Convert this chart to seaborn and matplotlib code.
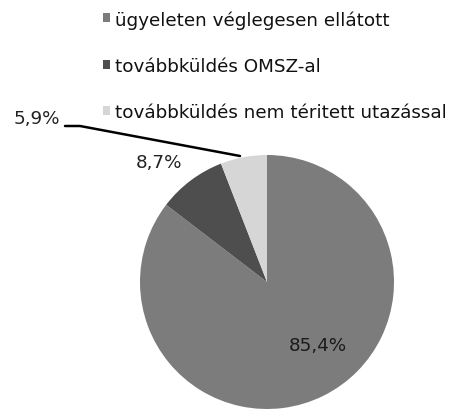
import matplotlib
matplotlib.use("Agg")
import matplotlib.pyplot as plt
import seaborn as sns
from matplotlib.lines import Line2D

categories = ["ügyeleten véglegesen ellátott",
              "továbbküldés OMSZ-al",
              "továbbküldés nem téritett utazással"]
values = [85.4, 8.7, 5.9]
colors = ["#7c7c7c", "#4e4e4e", "#d6d6d6"]

sns.set_theme(style="white")
plt.rcParams['font.family'] = ['DejaVu Sans']

W, H = 456, 410
fig = plt.figure(figsize=(W / 100, H / 100), dpi=100)
cx, cy, r = 267, 283, 127
ax = fig.add_axes([(cx - r) / W, (H - cy - r) / H, 2 * r / W, 2 * r / H])
wedges, _ = ax.pie(values, colors=colors, startangle=90, counterclock=False,
                   radius=1, wedgeprops=dict(linewidth=0))
ax.set_xlim(-1, 1)
ax.set_ylim(-1, 1)
ax.axis('off')

def fmt(v):
    return f"{v:.1f}".replace('.', ',') + '%'

fs = 13.2
fig.text(318 / W, 1 - 346 / H, fmt(values[0]), ha='center', va='center',
         fontsize=fs, color='#1a1a1a')
fig.text(159 / W, 1 - 163 / H, fmt(values[1]), ha='center', va='center',
         fontsize=fs, color='#222222')
fig.text(37 / W, 1 - 119 / H, fmt(values[2]), ha='center', va='center',
         fontsize=fs, color='#222222')

xs = [65 / W, 80 / W, 240 / W]
ys = [1 - 127 / H, 1 - 127 / H, 1 - 157 / H]
fig.add_artist(Line2D(xs, ys, transform=fig.transFigure, color='black', lw=1.8))

leg = fig.legend(wedges, categories, loc='upper left',
                 bbox_to_anchor=(103 / W, 1 - 11 / H), bbox_transform=fig.transFigure,
                 frameon=False, fontsize=fs, handlelength=0.38, handleheight=0.38,
                 handletextpad=0.3, labelspacing=1.55, borderpad=0, borderaxespad=0)
for t in leg.get_texts():
    t.set_color('#111111')

fig.savefig("out.png", dpi=100)
